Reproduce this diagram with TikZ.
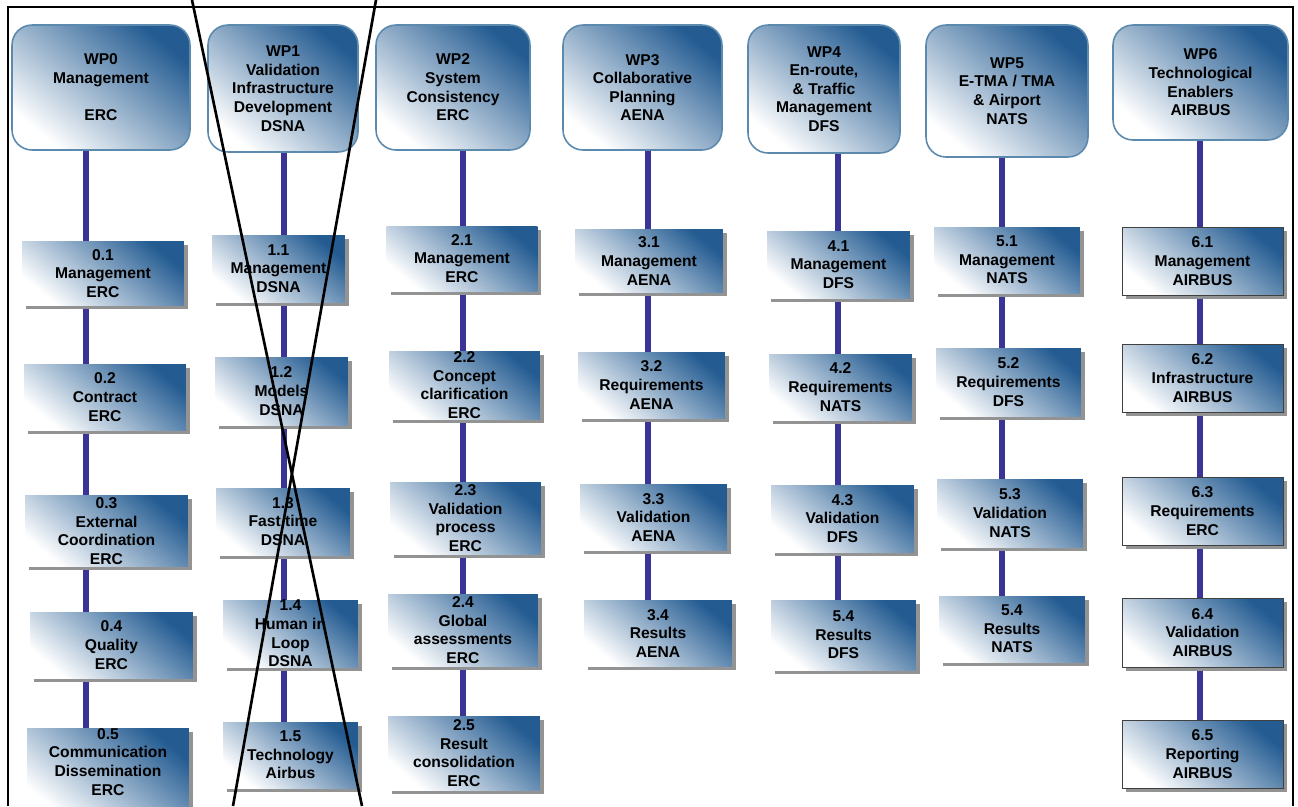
\documentclass[tikz,border=0pt]{standalone}
\usepackage{fontspec}
\setmainfont{Liberation Sans}
\usetikzlibrary{shadows,backgrounds}
\definecolor{wpdark}{RGB}{36,92,146}
\definecolor{wpedge}{RGB}{92,138,174}
\definecolor{linkblue}{RGB}{58,52,150}
\newcommand\wpfont{\fontsize{8.9}{10.6}\selectfont\bfseries}

\begin{document}
\begin{tikzpicture}[x=0.02cm,y=-0.02cm]
  \tikzset{ wp/.style={rounded corners=0.4cm, draw=wpedge, line width=0.9pt,
      top color=wpdark, bottom color=white, shading angle=-40,
      align=center, font=\wpfont, inner sep=0pt},
    task/.style={rectangle, top color=wpdark, bottom color=white, shading angle=-40,
      drop shadow={shadow xshift=0.08cm, shadow yshift=-0.07cm, fill=gray!85, opacity=1},
      align=center, font=\wpfont, inner sep=0pt},
    task6/.style={task, draw=black!75, line width=0.5pt},
    link/.style={linkblue, line width=3.4pt},
    cross/.style={black, line width=1.5pt},
  }
  \useasboundingbox (0,0) rectangle (1298,806);

  % work packages
  \node[wp, minimum width=3.56cm, minimum height=2.5cm]  (wp0) at (101,87.5)  {WP0\\Management\\[10.6pt]ERC};
  \node[wp, minimum width=3.0cm,  minimum height=2.54cm] (wp1) at (283,88.5)  {WP1\\Validation\\Infrastructure\\Development\\DSNA};
  \node[wp, minimum width=3.08cm, minimum height=2.5cm]  (wp2) at (453,87.5)  {WP2\\System\\Consistency\\ERC};
  \node[wp, minimum width=3.18cm, minimum height=2.5cm]  (wp3) at (642.5,87.5) {WP3\\Collaborative\\Planning\\AENA};
  \node[wp, minimum width=3.04cm, minimum height=2.56cm] (wp4) at (824,89)    {WP4\\En-route,\\\& Traffic\\Management\\DFS};
  \node[wp, minimum width=3.24cm, minimum height=2.64cm] (wp5) at (1007,91)   {WP5\\E-TMA / TMA\\\& Airport\\NATS};
  \node[wp, minimum width=3.5cm,  minimum height=2.3cm]  (wp6) at (1200.5,82.5) {WP6\\Technological\\Enablers\\AIRBUS};

  % WP0 tasks
  \node[task, minimum width=3.24cm, minimum height=1.28cm] (t01) at (103,273.5) {0.1\\Management\\ERC};
  \node[task, minimum width=3.24cm, minimum height=1.32cm] (t02) at (105,397)   {0.2\\Contract\\ERC};
  \node[task, minimum width=3.26cm, minimum height=1.42cm] (t03) at (106.5,531) {0.3\\External\\Coordination\\ERC};
  \node[task, minimum width=3.26cm, minimum height=1.32cm] (t04) at (111.5,645) {0.4\\Quality\\ERC};
  \node[task, minimum width=3.24cm, minimum height=1.72cm, text depth=14pt] (t05) at (108,774) {0.5\\Communication\\Dissemination\\ERC};

  % WP1 tasks
  \node[task, minimum width=2.66cm, minimum height=1.34cm] (t11) at (278.5,268.5) {1.1\\Management\\DSNA};
  \node[task, minimum width=2.66cm, minimum height=1.36cm] (t12) at (281.5,391)   {1.2\\Models\\DSNA};
  \node[task, minimum width=2.68cm, minimum height=1.34cm] (t13) at (283,521.5)   {1.3\\Fast time\\DSNA};
  \node[task, minimum width=2.7cm,  minimum height=1.34cm] (t14) at (290.5,633.5) {1.4\\Human in\\Loop\\DSNA};
  \node[task, minimum width=2.7cm,  minimum height=1.32cm] (t15) at (290.5,755)   {1.5\\Technology\\Airbus};

  % WP2 tasks
  \node[task, minimum width=3.02cm, minimum height=1.3cm]  (t21) at (462,258.5)  {2.1\\Management\\ERC};
  \node[task, minimum width=3.02cm, minimum height=1.36cm] (t22) at (464.5,385)  {2.2\\Concept\\clarification\\ERC};
  \node[task, minimum width=3.02cm, minimum height=1.44cm] (t23) at (465.5,518)  {2.3\\Validation\\process\\ERC};
  \node[task, minimum width=3.0cm,  minimum height=1.44cm] (t24) at (463,630)    {2.4\\Global\\assessments\\ERC};
  \node[task, minimum width=3.04cm, minimum height=1.48cm] (t25) at (464,753)    {2.5\\Result\\consolidation\\ERC};

  % WP3 tasks
  \node[task, minimum width=2.96cm, minimum height=1.26cm] (t31) at (649,261)    {3.1\\Management\\AENA};
  \node[task, minimum width=2.94cm, minimum height=1.32cm] (t32) at (651.5,385)  {3.2\\Requirements\\AENA};
  \node[task, minimum width=2.94cm, minimum height=1.32cm] (t33) at (653.5,517.5) {3.3\\Validation\\AENA};
  \node[task, minimum width=2.96cm, minimum height=1.32cm] (t34) at (658,633.5)  {3.4\\Results\\AENA};

  % WP4 tasks
  \node[task, minimum width=2.86cm, minimum height=1.34cm] (t41) at (838.5,264.5) {4.1\\Management\\DFS};
  \node[task, minimum width=2.86cm, minimum height=1.32cm] (t42) at (840.5,387)   {4.2\\Requirements\\NATS};
  \node[task, minimum width=2.86cm, minimum height=1.34cm] (t43) at (842.5,518.5) {4.3\\Validation\\DFS};
  \node[task, minimum width=2.9cm,  minimum height=1.4cm]  (t44) at (843.5,635)   {5.4\\Results\\DFS};

  % WP5 tasks
  \node[task, minimum width=2.92cm, minimum height=1.32cm] (t51) at (1007,260)   {5.1\\Management\\NATS};
  \node[task, minimum width=2.9cm,  minimum height=1.36cm] (t52) at (1008.5,382) {5.2\\Requirements\\DFS};
  \node[task, minimum width=2.92cm, minimum height=1.36cm] (t53) at (1010,513)   {5.3\\Validation\\NATS};
  \node[task, minimum width=2.92cm, minimum height=1.32cm] (t54) at (1012,629)   {5.4\\Results\\NATS};

  % WP6 tasks
  \node[task6, minimum width=3.22cm, minimum height=1.36cm] (t61) at (1202.5,261)   {6.1\\Management\\AIRBUS};
  \node[task6, minimum width=3.22cm, minimum height=1.36cm] (t62) at (1202.5,378)   {6.2\\Infrastructure\\AIRBUS};
  \node[task6, minimum width=3.22cm, minimum height=1.36cm] (t63) at (1202.5,511)   {6.3\\Requirements\\ERC};
  \node[task6, minimum width=3.22cm, minimum height=1.38cm] (t64) at (1202.5,632.5) {6.4\\Validation\\AIRBUS};
  \node[task6, minimum width=3.22cm, minimum height=1.36cm] (t65) at (1202.5,754)   {6.5\\Reporting\\AIRBUS};

  % the vertical links in each column
  \coordinate (c0) at (86,0);
  \coordinate (c1) at (284,0);
  \coordinate (c2) at (463,0);
  \coordinate (c3) at (648,0);
  \coordinate (c4) at (838,0);
  \coordinate (c5) at (1002,0);
  \coordinate (c6) at (1200,0);
  \begin{scope}[on background layer]
    \foreach \a/\b/\c in {wp0/t01/c0, t01/t02/c0, t02/t03/c0, t03/t04/c0, t04/t05/c0,
        wp1/t11/c1, t11/t12/c1, t12/t13/c1, t13/t14/c1, t14/t15/c1,
        wp2/t21/c2, t21/t22/c2, t22/t23/c2, t23/t24/c2, t24/t25/c2,
        wp3/t31/c3, t31/t32/c3, t32/t33/c3, t33/t34/c3,
        wp4/t41/c4, t41/t42/c4, t42/t43/c4, t43/t44/c4,
        wp5/t51/c5, t51/t52/c5, t52/t53/c5, t53/t54/c5,
        wp6/t61/c6, t61/t62/c6, t62/t63/c6, t63/t64/c6, t64/t65/c6}
      \draw[link] (\a.south -| \c) -- (\b.north -| \c);
  \end{scope}

  % frame
  \draw[cross] (8,806) -- (8,7) -- (1293,7) -- (1293,806);

  % WP1 crossed out
  \coordinate (xa) at (192,0);
  \coordinate (xb) at (362,806);
  \coordinate (xc) at (376,0);
  \coordinate (xd) at (233,806);
  \draw[cross] (xa) -- (xb);
  \draw[cross] (xc) -- (xd);
\end{tikzpicture}
\end{document}
